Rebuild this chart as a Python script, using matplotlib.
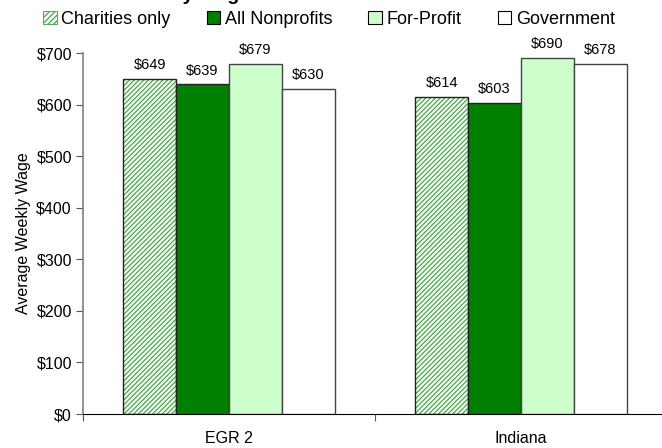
import matplotlib
matplotlib.use("Agg")
import matplotlib.pyplot as plt
import numpy as np
from matplotlib.patches import Patch

plt.rcParams['font.family'] = ['Liberation Sans', 'DejaVu Sans']

categories = ["EGR 2", "Indiana"]
series_names = ["Charities only", "All Nonprofits", "For-Profit", "Government"]
charities = [649, 614]
nonprofits = [639, 603]
forprofit = [679, 690]
government = [630, 678]
yticks = [0, 100, 200, 300, 400, 500, 600, 700]

fig = plt.figure(figsize=(6.62, 4.48), dpi=100)
ax = fig.add_axes([83/662, 1 - 414/448, 584/662, 361/448])

x = np.arange(len(categories))
w = 0.181
offsets = [-1.5 * w, -0.5 * w, 0.5 * w, 1.5 * w]
series = [charities, nonprofits, forprofit, government]

plt.rcParams['hatch.linewidth'] = 1.0
hatch_green = '#52b052'
# hatched charity bars
ax.bar(x + offsets[0], charities, w, color='white', edgecolor=hatch_green,
       hatch='///////', linewidth=0, zorder=2)
ax.bar(x + offsets[0], charities, w, fill=False, edgecolor='#222222',
       linewidth=1.0, zorder=3)
ax.bar(x + offsets[1], nonprofits, w, color='#007f00', edgecolor='#222222',
       linewidth=1.0, zorder=3)
ax.bar(x + offsets[2], forprofit, w, color='#ccffcc', edgecolor='#444444',
       linewidth=1.0, zorder=3)
ax.bar(x + offsets[3], government, w, color='white', edgecolor='#444444',
       linewidth=1.0, zorder=3)

for off, vals in zip(offsets, series):
    for xi, v in zip(x, vals):
        ax.annotate(f"${v}", (xi + off, v), xytext=(0, 5), textcoords='offset points',
                    ha='center', va='bottom', fontsize=10.5)

ax.set_ylim(0, 700)
ax.set_xlim(-0.5, 1.5)
ax.set_yticks(yticks)
ax.set_yticklabels([f"${t}" for t in yticks], fontsize=11.5)
ax.set_xticks([-0.5, 0.5, 1.5])
ax.set_xticklabels([])
ax.set_xticks(x, minor=True)
ax.set_xticklabels(categories, minor=True, fontsize=11.5)
ax.tick_params(axis='x', which='minor', length=0, pad=12)
ax.tick_params(axis='x', which='major', length=5, color='#555555')
ax.tick_params(axis='y', length=5, color='#555555', pad=3)
ax.spines['top'].set_visible(False)
ax.spines['right'].set_visible(False)
ax.spines['left'].set_color('#808080')
ax.spines['left'].set_linewidth(1.2)
ax.spines['bottom'].set_color('black')
ax.set_ylabel("Average Weekly Wage", fontsize=11.5, labelpad=4)

# title (mostly clipped at top, as in reference)
fig.text(127/662, 1.0, "Weekly Wages", fontsize=14, fontweight='bold',
         ha='left', va='baseline', zorder=0)

handles = [
    Patch(facecolor='white', edgecolor=hatch_green, hatch='//////', linewidth=0.8),
    Patch(facecolor='#007f00', edgecolor='black', linewidth=0.8),
    Patch(facecolor='#ccffcc', edgecolor='black', linewidth=0.8),
    Patch(facecolor='white', edgecolor='black', linewidth=0.8),
]
leg = fig.legend(handles, series_names, loc='center', ncol=4,
                 bbox_to_anchor=(329/662, 1 - 19/448), frameon=True,
                 fontsize=13, handlelength=0.75, handleheight=0.75,
                 handletextpad=0.25, columnspacing=2.0, borderpad=0.1,
                 edgecolor='white', facecolor='white', framealpha=1)
leg.get_frame().set_linewidth(0)

fig.savefig("out.png", dpi=100)
